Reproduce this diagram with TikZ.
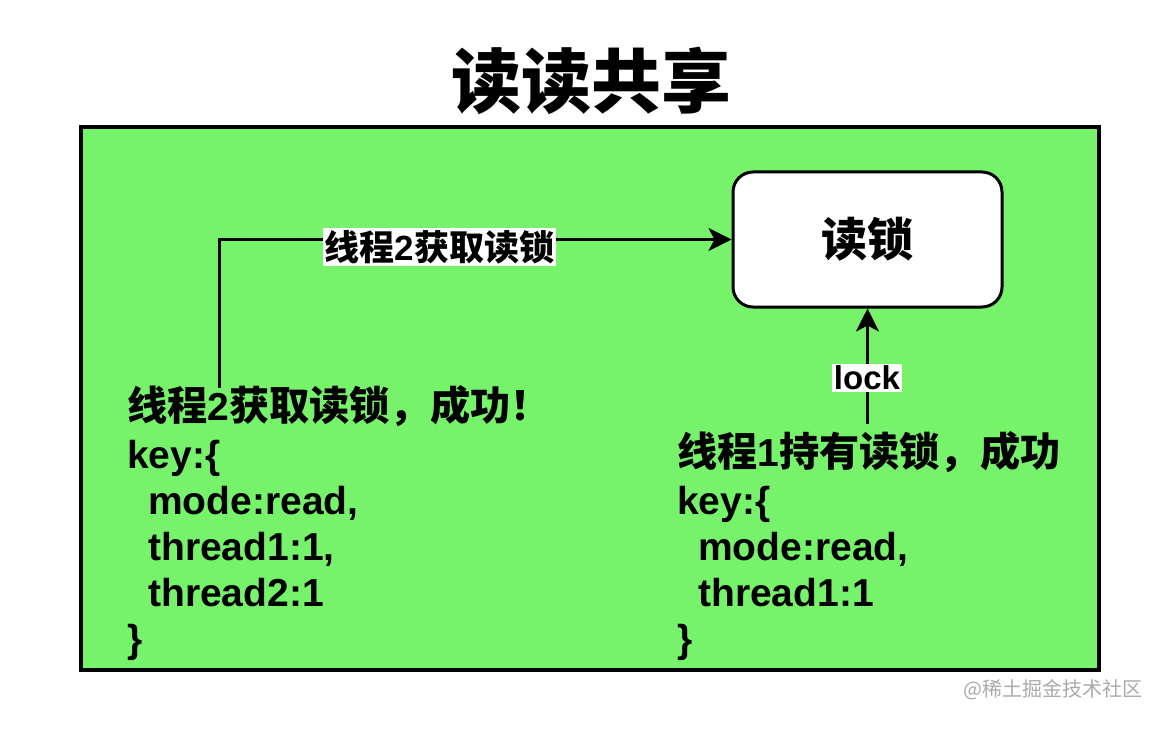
\documentclass[tikz,border=0pt]{standalone}
\usepackage{fontspec}
\setmainfont{Liberation Sans}
\newfontfamily\cjk{Noto Sans CJK SC}
\newfontfamily\cjkt{Noto Sans CJK SC}[Scale=1.03]
\newfontfamily\cjkblack{Noto Sans CJK SC Black}
\usetikzlibrary{arrows.meta}
\definecolor{bggreen}{RGB}{119,243,107}
\definecolor{wmgray}{RGB}{170,170,170}
\newcommand\zh[1]{{\cjk\bfseries #1}}
\newcommand\zt[1]{{\cjkt\bfseries #1}}
\begin{document}
\begin{tikzpicture}[x=1pt,y=-1pt,
  txt/.style={anchor=base west, inner sep=0pt, font=\fontsize{39}{39}\selectfont\bfseries},
  lbl/.style={fill=white, inner sep=2pt},
  arr/.style={line width=3pt, -{Stealth[length=23pt,width=23pt,inset=6pt]}},
]
\useasboundingbox (0,0) rectangle (1175,738);
% frame
\node (frame) [draw, line width=4.5pt, fill=bggreen, minimum width=1018pt, minimum height=543pt, inner sep=0pt] at (590,398.5) {};
% title
\node (title) [anchor=base, inner sep=0pt, font=\fontsize{70}{70}\selectfont] at (591,108) {{\cjkblack 读读共享}};
% read lock box
\node (lockbox) [draw, line width=3pt, fill=white, rounded corners=20pt, minimum width=269pt, minimum height=135pt, font=\fontsize{46}{46}\selectfont] at (867.5,239.5) {\zh{读锁}};
% left text
\node (l0) [txt] at (127,420) {\zt{线程}2\zt{获取读锁，成功！}};
\node (l1) [txt] at (127,468) {key:\{};
\node (l2) [txt] at (148,514) {mode:read,};
\node (l3) [txt] at (148,560) {thread1:1,};
\node (l4) [txt] at (148,606) {thread2:1};
\node (l5) [txt] at (127,652) {\}};
% right text
\node (r0) [txt] at (677,466) {\zt{线程}1\zt{持有读锁，成功}};
\node (r1) [txt] at (677,514) {key:\{};
\node (r2) [txt] at (698,560) {mode:read,};
\node (r3) [txt] at (698,606) {thread1:1};
\node (r4) [txt] at (677,652) {\}};
% connectors
\coordinate (s2) at (219,388);
\coordinate (s1) at (867.5,424);
\draw[arr] (s2) |- (lockbox.west);
\draw[arr] (s1) -- (lockbox.south);
\node (lab2) [lbl, font=\fontsize{35}{35}\selectfont] at (439.5,247) {\zh{线程}\textbf{2}\zh{获取读锁}};
\node (lab1) [lbl, font=\fontsize{33}{33}\selectfont\bfseries] at (867,378) {lock};
% watermark
\node (wm) [anchor=base, inner sep=0pt, text=wmgray, font=\fontsize{20}{20}\selectfont] at (1053,696) {{\cjk @稀土掘金技术社区}};
\end{tikzpicture}
\end{document}
